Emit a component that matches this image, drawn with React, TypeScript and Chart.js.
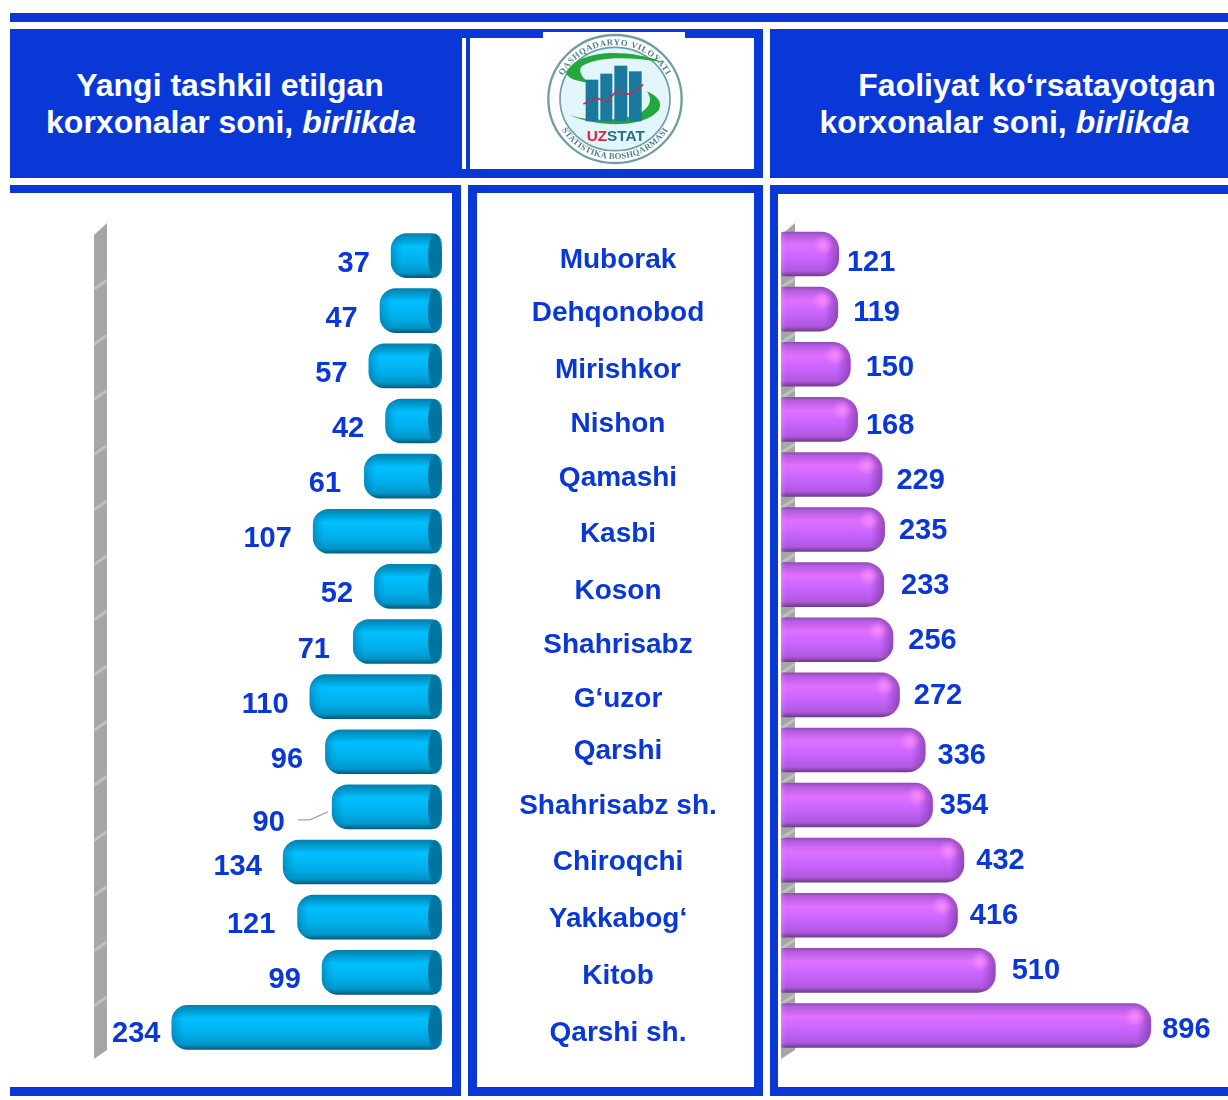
import React, { useEffect, useRef } from "react";
import { Chart, registerables } from "chart.js";

Chart.register(...registerables);

const districts = ["Muborak", "Dehqonobod", "Mirishkor", "Nishon", "Qamashi", "Kasbi", "Koson", "Shahrisabz", "G‘uzor", "Qarshi", "Shahrisabz sh.", "Chiroqchi", "Yakkabog‘", "Kitob", "Qarshi sh."];
const newEnterprises = [37, 47, 57, 42, 61, 107, 52, 71, 110, 96, 90, 134, 121, 99, 234];
const activeEnterprises = [121, 119, 150, 168, 229, 235, 233, 256, 272, 336, 354, 432, 416, 510, 896];

// hand-placed label offsets, as authored in the original slide
const newLabelGap = [21, 22, 21, 21, 23, 21, 21, 23, 21, 22, 47, 21, 22, 21, 11];
const newLabelDy = [8.5, 8.5, 8, 8, 8, 8, 8, 8.5, 8.5, 8, 16, 5, 8, 8, 6.5];
const activeLabelGap = [8, 15, 15, 8, 14, 14, 17, 15, 14, 12, 7, 12, 12, 16, 11];
const activeLabelDy = [9, 4, 4, 7, 7, 1, 1, 1, 1, 6, 1, 1, 1, 1, 5];
const districtDy = [4.5, 2.5, 4, 3, 2, 3, 5, 3.5, 2.5, 0, -1, 0, 2, 4, 5.5];

const BLUE = "#0A38D6";
const FONT = '"Liberation Sans", Arial, sans-serif';
const BAR_PCT = 0.81;

function barBox(bar: any) {
  const p = bar.getProps(["x", "y", "base", "height"], true);
  return { x0: Math.min(p.x, p.base), x1: Math.max(p.x, p.base), y0: p.y - p.height / 2, y1: p.y + p.height / 2, h: p.height, cy: p.y };
}

function vGradient(c: any, stops: [number, string][]) {
  const yScale = c.chart.scales.y;
  const fallback = stops[3][1];
  if (c.dataIndex == null || !yScale) return fallback;
  const cy = yScale.getPixelForValue(c.dataIndex);
  const h = (yScale.height / districts.length) * BAR_PCT;
  if (!Number.isFinite(cy) || !Number.isFinite(h)) return fallback;
  const g = c.chart.ctx.createLinearGradient(0, cy - h / 2, 0, cy + h / 2);
  stops.forEach(([o, col]) => g.addColorStop(o, col));
  return g;
}

const cyanStops: [number, string][] = [
  [0, "#0080AC"], [0.12, "#0098CC"], [0.3, "#00C0FF"], [0.65, "#00AEEA"], [0.88, "#0096C8"], [1, "#005A78"],
];
const violetStops: [number, string][] = [
  [0, "#8C4AB0"], [0.08, "#B45CE0"], [0.3, "#E070FF"], [0.6, "#C864FF"], [0.88, "#B058E0"], [1, "#6B3A85"],
];

function drawWall(chart: any, xL: number, xR: number) {
  const { ctx, scales } = chart;
  const yT = 223, yB = 1059;
  ctx.save();
  ctx.fillStyle = "#A6A6A6";
  ctx.beginPath();
  ctx.moveTo(xL, yT + 12);
  ctx.lineTo(xR, yT);
  ctx.lineTo(xR, yB - 9);
  ctx.lineTo(xL, yB);
  ctx.closePath();
  ctx.fill();
  ctx.clip();
  ctx.strokeStyle = "rgba(225,225,225,0.45)";
  ctx.lineWidth = 3;
  districts.forEach((_, i) => {
    const y = scales.y.getPixelForValue(i) + scales.y.height / districts.length / 2;
    if (i === districts.length - 1) return;
    ctx.beginPath();
    ctx.moveTo(xL, y + 6);
    ctx.lineTo(xR, y - 3);
    ctx.stroke();
  });
  ctx.restore();
}

function labelText(ctx: any, text: string, x: number, y: number) {
  ctx.fillStyle = BLUE;
  ctx.fillText(text, x, y);
}

const newPlugin = {
  id: "newEnterprisesDecor",
  beforeDatasetsDraw(chart: any) {
    drawWall(chart, 94, 107);
  },
  afterDatasetsDraw(chart: any) {
    const { ctx, scales } = chart;
    const bars = chart.getDatasetMeta(0).data;
    bars.forEach((bar: any, i: number) => {
      const b = barBox(bar);
      ctx.save();
      // soft rounding shade at the free end
      ctx.beginPath();
      ctx.roundRect(b.x0, b.y0, b.x1 - b.x0, b.h, [16, 10, 10, 16]);
      ctx.clip();
      const sh = ctx.createLinearGradient(b.x0, 0, b.x0 + 12, 0);
      sh.addColorStop(0, "rgba(0,90,130,0.4)");
      sh.addColorStop(1, "rgba(0,120,170,0)");
      ctx.fillStyle = sh;
      ctx.fillRect(b.x0, b.y0, 12, b.h);
      ctx.restore();
      // cylinder end cap
      ctx.save();
      ctx.fillStyle = "#0074A0";
      ctx.beginPath();
      ctx.ellipse(b.x1 - 7, b.cy, 7, b.h / 2 - 0.5, 0, 0, Math.PI * 2);
      ctx.fill();
      ctx.restore();
      // value label
      ctx.save();
      ctx.font = `bold 29px ${FONT}`;
      ctx.textAlign = "right";
      ctx.textBaseline = "middle";
      labelText(ctx, String(newEnterprises[i]), b.x0 - newLabelGap[i], b.cy + newLabelDy[i]);
      ctx.restore();
      if (i === 10) {
        ctx.save();
        ctx.strokeStyle = "#A6A6A6";
        ctx.lineWidth = 1.2;
        ctx.beginPath();
        ctx.moveTo(b.x0 - 34, b.cy + 13);
        ctx.lineTo(b.x0 - 22, b.cy + 13);
        ctx.lineTo(b.x0 - 4, b.cy + 5);
        ctx.stroke();
        ctx.restore();
      }
    });
    // district names in the middle column
    ctx.save();
    ctx.font = `bold 28px ${FONT}`;
    ctx.textAlign = "center";
    ctx.textBaseline = "middle";
    districts.forEach((d, i) => {
      labelText(ctx, d, 618, scales.y.getPixelForValue(i) + districtDy[i]);
    });
    ctx.restore();
  },
};

const activePlugin = {
  id: "activeEnterprisesDecor",
  beforeDatasetsDraw(chart: any) {
    drawWall(chart, 781, 795);
  },
  afterDatasetsDraw(chart: any) {
    const { ctx } = chart;
    const bars = chart.getDatasetMeta(0).data;
    bars.forEach((bar: any, i: number) => {
      const b = barBox(bar);
      ctx.save();
      ctx.beginPath();
      ctx.roundRect(b.x0, b.y0, b.x1 - b.x0, b.h, [2, 18, 18, 2]);
      ctx.clip();
      const sh = ctx.createLinearGradient(b.x1 - 14, 0, b.x1, 0);
      sh.addColorStop(0, "rgba(120,55,160,0)");
      sh.addColorStop(1, "rgba(120,55,160,0.7)");
      ctx.fillStyle = sh;
      ctx.fillRect(b.x1 - 14, b.y0, 14, b.h);
      const spot = ctx.createRadialGradient(b.x1 - 16, b.cy - 9, 0, b.x1 - 16, b.cy - 9, 10);
      spot.addColorStop(0, "rgba(250,140,255,0.9)");
      spot.addColorStop(1, "rgba(250,140,255,0)");
      ctx.fillStyle = spot;
      ctx.fillRect(b.x1 - 26, b.cy - 19, 20, 20);
      const edge = ctx.createLinearGradient(b.x0, 0, b.x0 + 5, 0);
      edge.addColorStop(0, "rgba(240,150,255,0.35)");
      edge.addColorStop(1, "rgba(240,150,255,0)");
      ctx.fillStyle = edge;
      ctx.fillRect(b.x0, b.y0, 5, b.h);
      ctx.restore();
      ctx.save();
      ctx.font = `bold 29px ${FONT}`;
      ctx.textAlign = "left";
      ctx.textBaseline = "middle";
      labelText(ctx, String(activeEnterprises[i]), b.x1 + activeLabelGap[i], b.cy + activeLabelDy[i]);
      ctx.restore();
    });
  },
};

function baseOptions(padding: any, reverse: boolean, min: number, max: number) {
  return {
    indexAxis: "y" as const,
    responsive: false,
    animation: false as const,
    layout: { padding },
    plugins: { legend: { display: false }, tooltip: { enabled: false }, title: { display: false } },
    scales: {
      x: { type: "linear" as const, display: false, reverse, min, max, grid: { display: false } },
      y: { type: "category" as const, display: false, grid: { display: false } },
    },
  };
}

const box = (l: number, t: number, r: number, b: number, background: string): React.CSSProperties => ({
  position: "absolute", left: l, top: t, width: r - l, height: b - t, background,
});

const headerText = (center: number, top: number): React.CSSProperties => ({
  position: "absolute", left: center - 250, width: 500, top, textAlign: "center", whiteSpace: "nowrap",
  color: "#fff", font: `bold 32px ${FONT}`, lineHeight: "36px",
});

function Logo() {
  return (
    <svg style={{ position: "absolute", left: 535, top: 28, filter: "blur(0.5px)" }} width={160} height={140} viewBox="0 0 480 420">
      <defs>
        <path id="arcTop" d="M 68 213 A 172 162 0 0 1 412 213" />
        <path id="arcBot" d="M 54 213 A 186 180 0 0 0 426 213" />
      </defs>
      <ellipse cx={240} cy={213} rx={200} ry={192} fill="#fff" stroke="#6F9CA6" strokeWidth={7} />
      <ellipse cx={240} cy={213} rx={165} ry={155} fill="#E2F5FA" stroke="#6F9CA6" strokeWidth={5} />
      <path d="M95 130 C130 70 260 55 395 105 C290 85 190 85 145 112 C125 125 140 150 165 165 C125 160 90 150 95 130 Z" fill="#22A83C" />
      <path d="M105 262 C190 300 330 300 372 245 C385 220 360 200 335 190 C355 215 345 245 300 262 C240 280 160 280 105 262 Z" fill="#22A83C" />
      <rect x={152} y={155} width={38} height={125} fill="#1A7A9E" />
      <rect x={196} y={137} width={36} height={143} fill="#1A7A9E" />
      <rect x={238} y={113} width={39} height={167} fill="#1A7A9E" />
      <rect x={282} y={130} width={38} height={150} fill="#1A7A9E" />
      <polyline points="145,228 185,210 215,222 245,188 285,200 325,170" fill="none" stroke="#B8305A" strokeWidth={5} />
      <text x={155} y={340} fontFamily={FONT} fontWeight="bold" fontSize={46} fill="#D8283A">UZ<tspan fill="#2A6E80">STAT</tspan></text>
      <text fontFamily='"Liberation Serif", serif' fontSize={26} fontWeight="bold" fill="#4F7F8C" textAnchor="middle" letterSpacing={2}>
        <textPath href="#arcTop" startOffset="50%">QASHQADARYO VILOYATI</textPath>
      </text>
      <text fontFamily='"Liberation Serif", serif' fontSize={26} fontWeight="bold" fill="#4F7F8C" textAnchor="middle" letterSpacing={1}>
        <textPath href="#arcBot" startOffset="50%">STATISTIKA BOSHQARMASI</textPath>
      </text>
    </svg>
  );
}

export default function App() {
  const leftRef = useRef<HTMLCanvasElement>(null);
  const rightRef = useRef<HTMLCanvasElement>(null);

  useEffect(() => {
    const left = new Chart(leftRef.current!, {
      type: "bar",
      data: {
        labels: districts,
        datasets: [{
          label: "Yangi tashkil etilgan korxonalar soni",
          data: newEnterprises,
          base: -9,
          categoryPercentage: 1,
          barPercentage: BAR_PCT,
          borderSkipped: false,
          borderWidth: 0,
          borderRadius: { topLeft: 16, bottomLeft: 16, topRight: 10, bottomRight: 10 },
          backgroundColor: (c: any) => vGradient(c, cyanStops),
        }],
      },
      options: baseOptions({ left: 108, right: 786, top: 228, bottom: 45 }, true, -9, 291),
      plugins: [newPlugin],
    } as any);
    const right = new Chart(rightRef.current!, {
      type: "bar",
      data: {
        labels: districts,
        datasets: [{
          label: "Faoliyat ko‘rsatayotgan korxonalar soni",
          data: activeEnterprises,
          base: -23,
          categoryPercentage: 1,
          barPercentage: BAR_PCT,
          borderSkipped: false,
          borderWidth: 0,
          borderRadius: { topLeft: 2, bottomLeft: 2, topRight: 18, bottomRight: 18 },
          backgroundColor: (c: any) => vGradient(c, violetStops),
        }],
      },
      options: baseOptions({ left: 781, right: 8, top: 226.5, bottom: 47 }, false, -23, 1067),
      plugins: [activePlugin],
    } as any);
    return () => {
      left.destroy();
      right.destroy();
    };
  }, []);

  return (
    <div style={{ position: "absolute", left: 0, top: 0, width: 1228, height: 1100, background: "#fff", overflow: "hidden" }}>
      {/* top rule */}
      <div style={box(10, 13, 1228, 22, BLUE)} />
      {/* header row */}
      <div style={box(10, 29, 763, 178, BLUE)} />
      <div style={box(462, 38, 466, 169, "#fff")} />
      <div style={box(470, 38, 754, 169, "#fff")} />
      <div style={box(543, 32, 685, 38, "#fff")} />
      <div style={box(770, 29, 1228, 178, BLUE)} />
      {/* lower panels */}
      <div style={box(10, 185, 461, 1096, BLUE)} />
      <div style={box(10, 193, 452, 1087, "#fff")} />
      <div style={box(468, 185, 763, 1096, BLUE)} />
      <div style={box(477, 193, 754, 1087, "#fff")} />
      <div style={box(770, 185, 1228, 1096, BLUE)} />
      <div style={box(778, 194, 1228, 1087, "#fff")} />

      <div style={headerText(230, 67)}>Yangi tashkil etilgan</div>
      <div style={headerText(231, 104)}>korxonalar soni, <i>birlikda</i></div>
      <div style={headerText(1037, 67)}>Faoliyat ko‘rsatayotgan</div>
      <div style={headerText(1004.5, 104)}>korxonalar soni, <i>birlikda</i></div>
      <Logo />

      <canvas ref={leftRef} width={1228} height={1100} style={{ position: "absolute", left: 0, top: 0 }} />
      <canvas ref={rightRef} width={1228} height={1100} style={{ position: "absolute", left: 0, top: 0 }} />
    </div>
  );
}
